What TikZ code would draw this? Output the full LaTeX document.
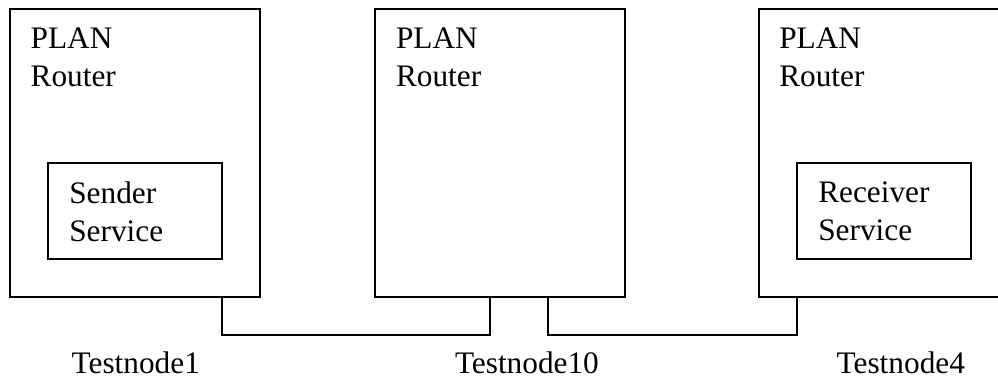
\documentclass[tikz,border=0pt]{standalone}
\usepackage{fontspec}
\setmainfont{Liberation Serif}
\begin{document}
\begin{tikzpicture}[x=1pt,y=-1pt,
  every node/.style={inner sep=0pt, outer sep=0pt},
  hostbox/.style={draw, line width=1.8pt, rectangle, minimum width=250pt, minimum height=288pt},
  svcbox/.style={draw, line width=1.8pt, rectangle, minimum width=174pt, minimum height=96pt},
  lbl/.style={anchor=north west, align=left, font=\fontsize{31.3}{38}\selectfont},
  hostlabel/.style={anchor=north west, font=\fontsize{31.3}{38}\selectfont},
  link/.style={line width=1.8pt}]
\useasboundingbox (0,0) rectangle (998,379);
\clip (0,0) rectangle (998,379);

% host machines
\node[hostbox] (h1) at (135,153) {};
\node[hostbox] (h2) at (500,153) {};
\node[hostbox] (h3) at (884,153) {};

% services running on the end hosts
\node[svcbox] (s1) at (135,210.7) {};
\node[svcbox] (s3) at (883.7,210.7) {};

% router labels
\node[lbl] (r1) at (30.7,28.3) {PLAN\\Router};
\node[lbl] (r2) at (396,28.3) {PLAN\\Router};
\node[lbl] (r3) at (779.3,28.3) {PLAN\\Router};

% service labels
\node[lbl] (t1) at (69.3,181.5) {Sender\\Service};
\node[lbl] (t3) at (818.3,181.5) {Receiver\\Service};

% host names
\node[hostlabel] (n1) at (71.7,352) {Testnode1};
\node[hostlabel] (n2) at (455,352) {Testnode10};
\node[hostlabel] (n3) at (836.7,352) {Testnode4};

% network links
\draw[link] ([xshift=-38.3pt]h1.south east) -- ++(0,38.3) -| ([xshift=-10pt]h2.south);
\draw[link] ([xshift=47.7pt]h2.south) -- ++(0,38.3) -| ([xshift=38.3pt]h3.south west);
\end{tikzpicture}
\end{document}
